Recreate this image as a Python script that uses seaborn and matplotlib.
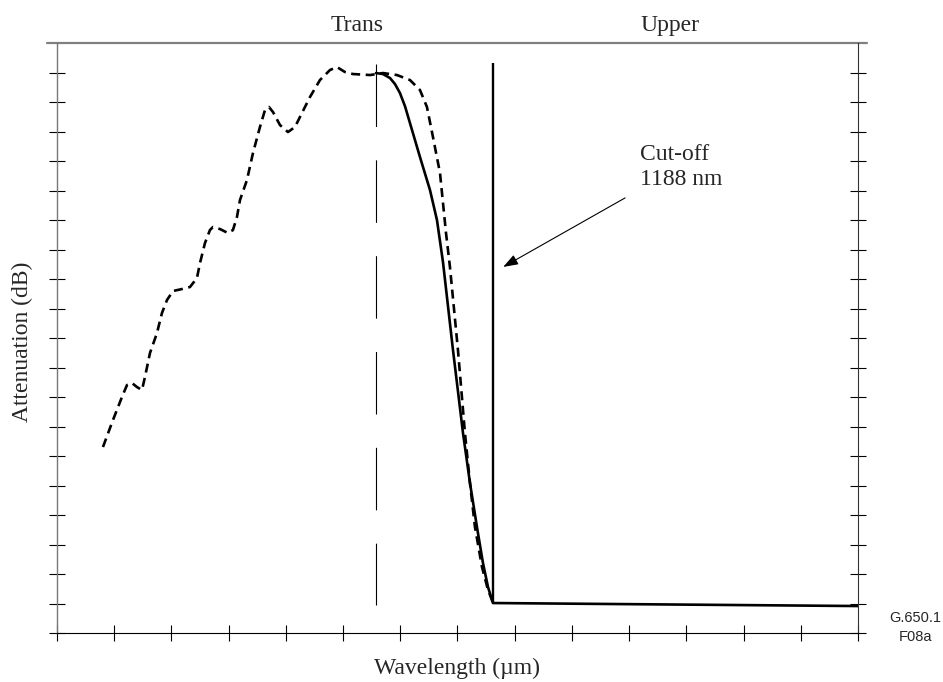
import numpy as np
import pandas as pd
import matplotlib
matplotlib.use('Agg')
import matplotlib.pyplot as plt
import seaborn as sns

# ============================================================
# data (x in tick units 0..14, y in tick units 0..20)
# ============================================================
# dashed curve
dash_x = [0.804, 0.979, 1.136, 1.224, 1.311, 1.398, 1.486, 1.538, 1.626, 1.748,
          1.835, 1.923, 2.028, 2.185, 2.325, 2.447, 2.500, 2.587, 2.674, 2.727,
          2.849, 2.989, 3.076, 3.146, 3.199, 3.321, 3.426, 3.548, 3.636, 3.706,
          3.776, 3.898, 4.038, 4.160, 4.282, 4.422, 4.597, 4.772, 4.894, 5.034,
          5.174, 5.471, 5.698, 5.943, 6.170, 6.345, 6.467, 6.572, 6.695, 6.800,
          6.869, 7.009, 7.131, 7.219, 7.306, 7.429, 7.534, 7.604, 7.621]
dash_y = [6.305, 7.220, 8.000, 8.407, 8.475, 8.339, 8.237, 8.678, 9.492, 10.169,
          10.847, 11.288, 11.593, 11.661, 11.729, 12.034, 12.542, 13.220, 13.661, 13.763,
          13.695, 13.559, 13.661, 14.102, 14.678, 15.356, 16.271, 17.153, 17.729, 17.831,
          17.661, 17.220, 16.983, 17.153, 17.627, 18.169, 18.746, 19.085, 19.186, 19.017,
          18.949, 18.915, 18.983, 18.915, 18.746, 18.407, 17.831, 16.814, 15.593, 13.559,
          12.407, 9.593, 6.780, 5.085, 3.593, 2.237, 1.458, 1.119, 1.017]

# solid curve (then flat part after the cut-off)
solid_x = [5.576, 5.698, 5.821, 5.908, 5.995, 6.083, 6.170, 6.345, 6.520, 6.642,
           6.747, 6.922, 7.097, 7.219, 7.341, 7.446, 7.534, 7.604, 7.621, 14.0]
solid_y = [18.983, 18.949, 18.814, 18.610, 18.305, 17.860, 17.288, 16.136, 15.017, 14.000,
           12.576, 9.593, 6.780, 5.085, 3.593, 2.373, 1.559, 1.119, 1.017, 0.915]

cutoff_x = 7.63
cutoff_top = 19.32
trans_x = 5.57
trans_range = (19.29, 0.95)

arrow_start = (9.93, 14.75)
arrow_tip = (7.80, 12.41)
label_pos = (10.19, 15.19)

x_ticks = list(range(15))
y_ticks = list(range(20))

# ============================================================
# style
# ============================================================
sns.set_style('white')
plt.rcParams['font.family'] = ['Liberation Serif', 'DejaVu Serif']
plt.rcParams['lines.scale_dashes'] = False
plt.rcParams['lines.solid_joinstyle'] = 'round'

fig = plt.figure(figsize=(9.43, 6.82), dpi=100)
ax = fig.add_axes([0.0604, 0.0718, 0.8494, 0.8651])

df_dash = pd.DataFrame({'x': dash_x, 'y': dash_y})
df_solid = pd.DataFrame({'x': solid_x, 'y': solid_y})

sns.lineplot(data=df_dash, x='x', y='y', sort=False, estimator=None,
             color='black', lw=1.9, ax=ax)
ax.lines[-1].set_dashes((6.5, 4.0))
sns.lineplot(data=df_solid, x='x', y='y', sort=False, estimator=None,
             color='black', lw=1.9, ax=ax)

# cut-off line and transition marker
ax.vlines(cutoff_x, solid_y[-2], cutoff_top, color='black', lw=1.7)
ax.plot([trans_x, trans_x], [trans_range[0], trans_range[1]], color='black',
        lw=0.8, dashes=(45, 24))

ax.annotate('', xy=arrow_tip, xytext=arrow_start,
            arrowprops=dict(arrowstyle='-|>,head_length=0.45,head_width=0.16',
                            mutation_scale=20, color='black', lw=0.8,
                            shrinkA=0, shrinkB=0))
ax.text(label_pos[0], label_pos[1], 'Cut-off\n1188 nm', fontsize=17,
        ha='left', va='baseline', linespacing=1.25)

# axes
ax.set_xlim(0, 14)
ax.set_ylim(0, 20)
ax.set_xticks(x_ticks)
ax.set_yticks(y_ticks)
ax.tick_params(direction='inout', length=11, width=0.8, color='black',
               left=True, right=True, bottom=True, top=False,
               labelleft=False, labelbottom=False)
ax.grid(False)

ax.spines['top'].set_visible(False)
ax.spines['left'].set_color('#777777')
ax.spines['left'].set_linewidth(1.0)
ax.spines['right'].set_color('#333333')
ax.spines['right'].set_linewidth(0.8)
ax.spines['bottom'].set_color('black')
ax.spines['bottom'].set_linewidth(0.8)
ax.plot([-0.012, 1.011], [1, 1], transform=ax.transAxes, clip_on=False,
        color='#808080', lw=1.6)

ax.set_xlabel('Wavelength (µm)', fontsize=17)
ax.xaxis.label.set_va('baseline')
ax.xaxis.set_label_coords(0.5, -0.0695)
ax.set_ylabel('Attenuation (dB)', fontsize=17)
ax.yaxis.label.set_rotation_mode('anchor')
ax.yaxis.label.set_va('baseline')
ax.yaxis.label.set_ha('center')
ax.yaxis.set_label_coords(-0.036, 0.493)

fig.text(357 / 943, 1 - 31 / 682, 'Trans', fontsize=17, ha='center', va='baseline')
fig.text(670 / 943, 1 - 31 / 682, 'Upper', fontsize=17, ha='center', va='baseline')
fig.text(915 / 943, 1 - 622 / 682, 'G.650.1', fontsize=10.5, ha='center',
         va='baseline', family=['Liberation Sans', 'DejaVu Sans'])
fig.text(915 / 943, 1 - 641 / 682, 'F08a', fontsize=10.5, ha='center',
         va='baseline', family=['Liberation Sans', 'DejaVu Sans'])

fig.savefig('out.png', dpi=100)
